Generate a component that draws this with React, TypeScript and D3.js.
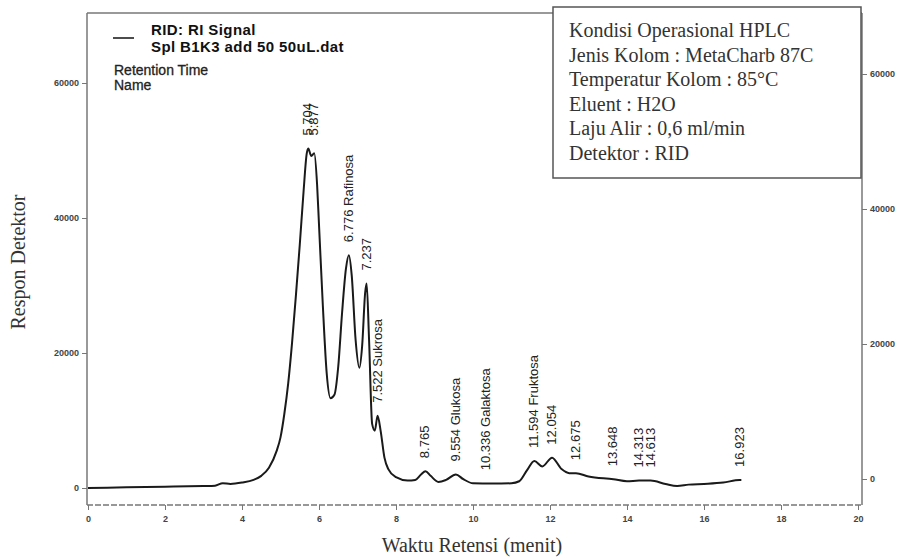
import React, { useEffect, useRef } from 'react';
import * as d3 from 'd3';

// chromatogram trace (time in minutes, detector response)
const times = [0, 1, 2, 3, 3.3, 3.5, 3.7, 4.0, 4.3, 4.5, 4.7, 4.9, 5.0, 5.1, 5.2, 5.3, 5.4, 5.5, 5.6, 5.68, 5.72,
  5.8, 5.877, 5.95, 6.0, 6.1, 6.2, 6.3, 6.4, 6.5, 6.6, 6.7, 6.776, 6.85, 6.95, 7.05, 7.12, 7.2, 7.237, 7.3, 7.38,
  7.45, 7.522, 7.6, 7.7, 7.8, 8.0, 8.3, 8.5, 8.65, 8.765, 8.9, 9.1, 9.3, 9.554, 9.75, 10.0, 10.5, 11.0, 11.2, 11.4,
  11.594, 11.8, 12.054, 12.3, 12.5, 12.675, 13.0, 13.648, 14.0, 14.313, 14.613, 15.0, 15.3, 15.6, 16.0, 16.5, 16.923, 16.97];
const signal = [0, 100, 200, 300, 350, 700, 600, 800, 1200, 1800, 3000, 5500, 7500, 11000, 15500, 21500, 28500, 36000, 44000, 49500, 50300,
  49200, 49600, 45000, 39000, 27000, 17000, 13300, 13800, 18000, 26000, 32500, 34500, 31500, 22000, 17800, 21000, 29000, 30300, 22000, 9500,
  8500, 10700, 8500, 4500, 2800, 1600, 1100, 1200, 2000, 2500, 1800, 900, 1200, 2000, 1300, 700, 650, 700, 1000, 2600,
  4000, 3200, 4500, 2800, 2200, 2200, 1700, 1300, 1000, 1100, 1100, 600, 300, 500, 600, 800, 1200, 1200];

// peak annotations
const peakTimes = [5.704, 5.877, 6.776, 7.237, 7.522, 8.765, 9.554, 10.336, 11.594, 12.054, 12.675, 13.648, 14.313, 14.613, 16.923];
const peakNames = ['', '', 'Rafinosa', '', 'Sukrosa', '', 'Glukosa', 'Galaktosa', 'Fruktosa', '', '', '', '', '', ''];
const peakHeights = [50300, 50300, 34500, 30300, 10700, 2500, 2000, 700, 4000, 4500, 2200, 1300, 1100, 1100, 1200];

const xTicks = [0, 2, 4, 6, 8, 10, 12, 14, 16, 18, 20];
const yTicks = [0, 20000, 40000, 60000];

const legendLines = ['RID: RI Signal', 'Spl B1K3 add 50 50uL.dat'];
const legendSub = ['Retention Time', 'Name'];
const infoLines = [
  'Kondisi Operasional HPLC',
  'Jenis Kolom : MetaCharb 87C',
  'Temperatur Kolom : 85°C',
  'Eluent : H2O',
  'Laju Alir : 0,6 ml/min',
  'Detektor : RID',
];

const App = () => {
  const svgRef = useRef(null);

  useEffect(() => {
    const width = 905;
    const height = 559;
    const svg = d3.select(svgRef.current).attr('width', width).attr('height', height);
    svg.selectAll('*').remove();

    const x = d3.scaleLinear().domain([0, 20]).range([88, 858]);
    const y = d3.scaleLinear().domain([0, 60000]).range([488, 83]);
    // the right axis of the scan sits a little higher
    const yRight = d3.scaleLinear().domain([0, 60000]).range([479, 74]);

    const top = 13;
    const bottom = 505;
    const axisColor = '#777';

    // frame lines
    svg.append('line').attr('x1', 87).attr('x2', 87).attr('y1', top).attr('y2', bottom)
      .attr('stroke', axisColor).attr('stroke-width', 1.5);
    svg.append('line').attr('x1', 862).attr('x2', 862).attr('y1', top).attr('y2', bottom)
      .attr('stroke', axisColor).attr('stroke-width', 1.5);
    svg.append('line').attr('x1', 87).attr('x2', 862).attr('y1', top).attr('y2', top)
      .attr('stroke', axisColor).attr('stroke-width', 1.5);
    svg.append('line').attr('x1', 87).attr('x2', 862).attr('y1', bottom).attr('y2', bottom)
      .attr('stroke', axisColor).attr('stroke-width', 1.5).attr('stroke-dasharray', '6 2');

    const styleAxis = (g) => {
      g.select('.domain').remove();
      g.selectAll('line').attr('stroke', axisColor);
      g.selectAll('text').attr('font-family', 'Liberation Sans, Arial, sans-serif')
        .attr('font-size', 9).attr('font-weight', 'bold').attr('fill', '#444');
    };

    svg.append('g').attr('transform', `translate(87,0)`)
      .call(d3.axisLeft(y).tickValues(yTicks).tickSize(5).tickPadding(3).tickFormat(d3.format('d')))
      .call(styleAxis);
    svg.append('g').attr('transform', `translate(862,0)`)
      .call(d3.axisRight(yRight).tickValues(yTicks).tickSize(5).tickPadding(3).tickFormat(d3.format('d')))
      .call(styleAxis);
    svg.append('g').attr('transform', `translate(0,${bottom})`)
      .call(d3.axisBottom(x).tickValues(xTicks).tickSize(5).tickPadding(6).tickFormat(d3.format('d')))
      .call(styleAxis);

    // info box
    svg.append('rect').attr('x', 553).attr('y', 7).attr('width', 308).attr('height', 171)
      .attr('fill', 'white').attr('stroke', '#555').attr('stroke-width', 1.5);
    svg.append('g').selectAll('text')
      .data(infoLines)
      .enter()
      .append('text')
      .attr('x', 569)
      .attr('y', (d, i) => 37 + i * 24.6)
      .attr('font-family', 'Liberation Serif, Times New Roman, serif')
      .attr('font-size', 20)
      .attr('fill', '#333')
      .text(d => d);

    // legend
    svg.append('line').attr('x1', 113).attr('x2', 134).attr('y1', 38).attr('y2', 38)
      .attr('stroke', '#111').attr('stroke-width', 1.5);
    svg.append('g').selectAll('text')
      .data(legendLines)
      .enter()
      .append('text')
      .attr('x', 151)
      .attr('y', (d, i) => 35 + i * 17)
      .attr('font-family', 'Liberation Sans, Arial, sans-serif')
      .attr('font-weight', 'bold')
      .attr('font-size', 15)
      .attr('letter-spacing', 0.4)
      .attr('fill', '#111')
      .text(d => d);
    svg.append('g').selectAll('text')
      .data(legendSub)
      .enter()
      .append('text')
      .attr('x', 114)
      .attr('y', (d, i) => 75 + i * 15)
      .attr('font-family', 'Liberation Sans, Arial, sans-serif')
      .attr('font-size', 14)
      .attr('stroke', '#222')
      .attr('stroke-width', 0.3)
      .attr('fill', '#222')
      .text(d => d);

    // trace
    const trace = times.map((t, i) => [t, signal[i]]);
    svg.append('path')
      .datum(trace)
      .attr('d', d3.line().x(d => x(d[0])).y(d => y(d[1])).curve(d3.curveMonotoneX))
      .attr('fill', 'none')
      .attr('stroke', '#1a1a1a')
      .attr('stroke-width', 2);

    // peak labels
    svg.append('g').selectAll('text')
      .data(peakTimes)
      .enter()
      .append('text')
      .attr('transform', (d, i) => `translate(${x(d) + 4},${y(peakHeights[i]) - 13}) rotate(-90)`)
      .attr('font-family', 'Liberation Sans, Arial, sans-serif')
      .attr('font-size', 13)
      .attr('fill', '#222')
      .text((d, i) => peakNames[i] ? `${d.toFixed(3)}  ${peakNames[i]}` : d.toFixed(3));

    // axis titles
    svg.append('text')
      .attr('transform', `translate(25,${262}) rotate(-90)`)
      .attr('text-anchor', 'middle')
      .attr('font-family', 'Liberation Serif, Times New Roman, serif')
      .attr('font-size', 20)
      .attr('fill', '#333')
      .text('Respon Detektor');
    svg.append('text')
      .attr('x', 472)
      .attr('y', 552)
      .attr('text-anchor', 'middle')
      .attr('font-family', 'Liberation Serif, Times New Roman, serif')
      .attr('font-size', 20)
      .attr('fill', '#333')
      .text('Waktu Retensi (menit)');
  }, []);

  return (
    <svg ref={svgRef} style={{ position: 'absolute', left: 0, top: 0, background: 'white' }}></svg>
  );
};

export default App;
